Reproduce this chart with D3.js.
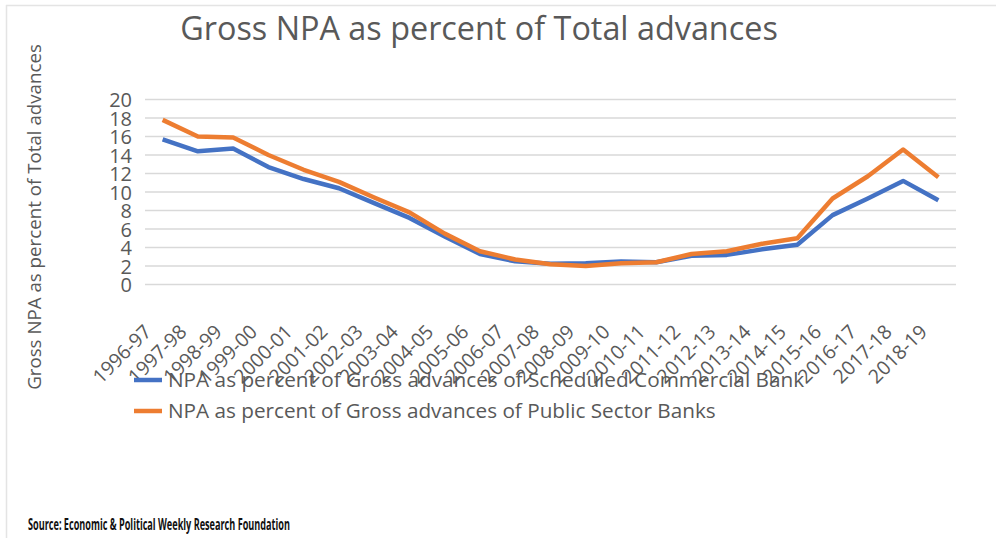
<!DOCTYPE html>
<html>
<head>
<meta charset="utf-8">
<script src="https://cdn.jsdelivr.net/npm/d3@7"></script>
<style>
  body { margin: 0; background: #fff; }
  svg { display: block; }
  text { font-family: "Open Sans", sans-serif; fill: #595959; }
</style>
</head>
<body>
<svg id="chart" width="996" height="538"></svg>
<script>
const years = ['1996-97', '1997-98', '1998-99', '1999-00', '2000-01', '2001-02', '2002-03',
  '2003-04', '2004-05', '2005-06', '2006-07', '2007-08', '2008-09', '2009-10', '2010-11',
  '2011-12', '2012-13', '2013-14', '2014-15', '2015-16', '2016-17', '2017-18', '2018-19'];

// scheduled commercial banks
const scbValues = [15.7, 14.4, 14.7, 12.7, 11.4, 10.4, 8.8, 7.2, 5.2, 3.3, 2.5, 2.25, 2.3,
  2.5, 2.4, 3.1, 3.2, 3.8, 4.3, 7.5, 9.3, 11.2, 9.1];

// public sector banks
const psbValues = [17.8, 16.0, 15.9, 14.0, 12.4, 11.1, 9.4, 7.8, 5.5, 3.6, 2.7, 2.2, 2.0,
  2.3, 2.4, 3.3, 3.6, 4.4, 5.0, 9.3, 11.7, 14.6, 11.6];

const yTicks = [0, 2, 4, 6, 8, 10, 12, 14, 16, 18, 20];

const seriesNames = [
  'NPA as percent of Gross advances of Scheduled Commercial Bank',
  'NPA as percent of Gross advances of Public Sector Banks'
];

const series = [
  {name: seriesNames[0], values: scbValues, color: '#4472C4'},
  {name: seriesNames[1], values: psbValues, color: '#ED7D31'}
];

const svg = d3.select('#chart');

// shrink or grow a text node until it is the wanted width
const fitWidth = (sel, w) => {
  const node = sel.node();
  const size = parseFloat(sel.attr('font-size'));
  sel.attr('font-size', size * w / node.getComputedTextLength());
};

// frame
svg.append('line').attr('x1', 6.5).attr('x2', 6.5).attr('y1', 5).attr('y2', 538)
  .attr('stroke', '#e4e4e4').attr('stroke-width', 1.5);
svg.append('line').attr('x1', 6).attr('x2', 996).attr('y1', 5.5).attr('y2', 5.5)
  .attr('stroke', '#e4e4e4').attr('stroke-width', 1.5);

const x = d3.scaleBand().domain(years).range([145, 956]);
const y = d3.scaleLinear().domain([0, 20]).range([284.5, 99.5]);

// gridlines
svg.append('g')
  .selectAll('line')
  .data(yTicks)
  .join('line')
  .attr('x1', 145).attr('x2', 956)
  .attr('y1', (d) => y(d)).attr('y2', (d) => y(d))
  .attr('stroke', '#d9d9d9').attr('stroke-width', 1.5);

// y axis labels
const yAxis = svg.append('g')
  .attr('transform', 'translate(132,0)')
  .call(d3.axisLeft(y).tickValues(yTicks).tickSize(0).tickPadding(0));
yAxis.select('.domain').remove();
yAxis.selectAll('text')
  .attr('font-size', 20)
  .attr('font-family', '"Open Sans", sans-serif')
  .attr('fill', '#595959')
  .attr('dy', '0.36em');

// x axis labels, rotated
const xAxis = svg.append('g')
  .attr('transform', 'translate(0,300)')
  .call(d3.axisBottom(x).tickSize(0).tickPadding(0));
xAxis.select('.domain').remove();
xAxis.selectAll('.tick text')
  .attr('font-size', 19.5)
  .attr('font-family', '"Open Sans", sans-serif')
  .attr('fill', '#595959')
  .attr('text-anchor', 'end')
  .attr('y', 0)
  .attr('dy', 0)
  .attr('transform', 'translate(-10,33) rotate(-45)');

// lines
const line = d3.line()
  .x((d, i) => x(years[i]) + x.bandwidth() / 2)
  .y((d) => y(d));

svg.append('g')
  .selectAll('path')
  .data(series)
  .join('path')
  .attr('d', (d) => line(d.values))
  .attr('fill', 'none')
  .attr('stroke', (d) => d.color)
  .attr('stroke-width', 4.5)
  .attr('stroke-linejoin', 'round');

// title
const title = svg.append('text')
  .attr('x', 479).attr('y', 40)
  .attr('text-anchor', 'middle')
  .attr('font-size', 28)
  .text('Gross NPA as percent of Total advances');
fitWidth(title, 598);

// y axis title
const yTitle = svg.append('text')
  .attr('transform', 'translate(41,217) rotate(-90)')
  .attr('text-anchor', 'middle')
  .attr('font-size', 15)
  .text('Gross NPA as percent of Total advances');
fitWidth(yTitle, 346);

// legend
const legend = svg.append('g')
  .selectAll('g')
  .data(series)
  .join('g')
  .attr('transform', (d, i) => `translate(134,${380 + i * 31})`);

legend.append('line')
  .attr('x1', 0).attr('x2', 28)
  .attr('stroke', (d) => d.color)
  .attr('stroke-width', 4.5);

legend.append('text')
  .attr('x', 34).attr('dy', '0.35em')
  .attr('font-size', 17)
  .text((d) => d.name)
  .each(function () { fitWidth(d3.select(this), 548); });

// second legend entry is shorter than the first, fit it against its own width
legend.filter((d, i) => i === 0).select('text')
  .each(function () { fitWidth(d3.select(this), 636); });

// source note
svg.append('text')
  .attr('x', 28).attr('y', 530)
  .attr('font-size', 16)
  .attr('font-weight', 'bold')
  .attr('textLength', 262)
  .attr('lengthAdjust', 'spacingAndGlyphs')
  .style('fill', '#111')
  .text('Source: Economic & Political Weekly Research Foundation');
</script>
</body>
</html>
